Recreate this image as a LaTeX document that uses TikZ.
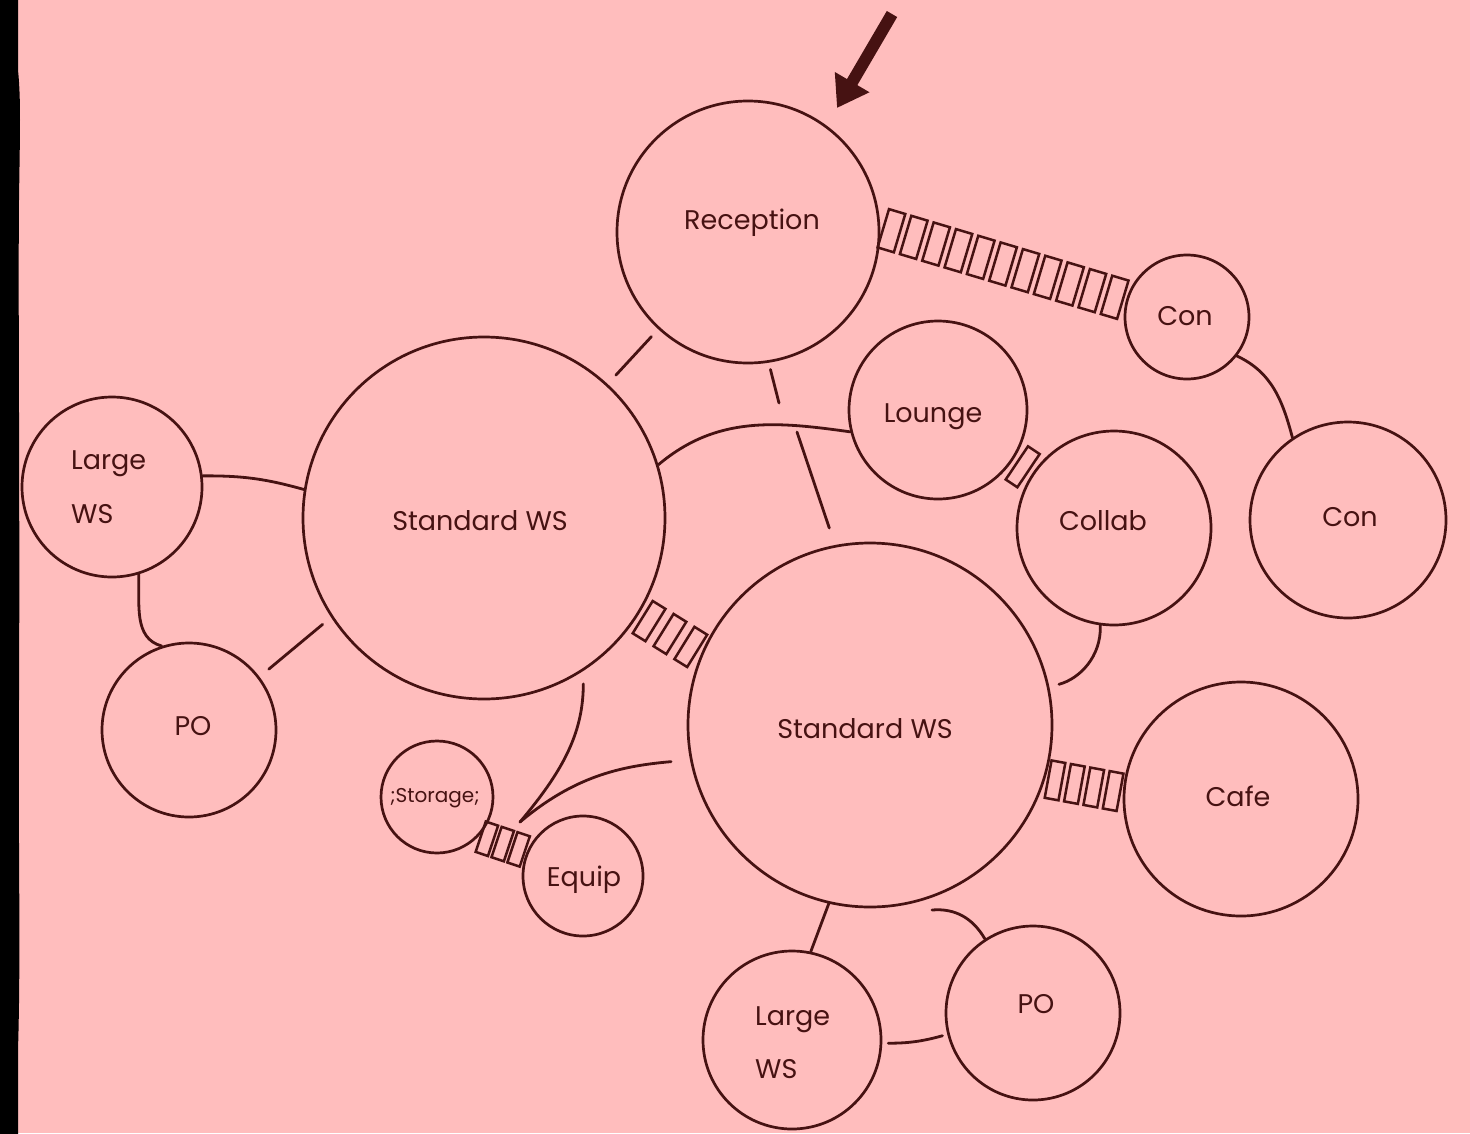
\documentclass[tikz,border=0pt]{standalone}
\usepackage{fontspec}
\setmainfont{Poppins}
\usetikzlibrary{calc,arrows.meta}
\definecolor{bg}{HTML}{FFBDBD}
\definecolor{ink}{HTML}{461212}
\newcommand\ladderrun[6]{%
  \foreach \k [evaluate=\k as \pp using {(\k-0.5)/#3}] in {1,...,#3}{%
    \path (#1) -- (#2) node[rung,sloped,pos=\pp,minimum width=#4,minimum height=#5] (#6\k) {};
  }}
\begin{document}
\begin{tikzpicture}[x=1pt,y=-1pt,
  bub/.style={circle,draw=ink,line width=2.7pt,inner sep=0pt,minimum size=#1},
  lbl/.style={text=ink,font=\fontsize{27}{32}\selectfont,inner sep=0pt,anchor=base},
  lblw/.style={lbl,anchor=base west},
  link/.style={draw=ink,line width=2.8pt,line cap=round},
  rung/.style={draw=ink,line width=2.5pt,rectangle,inner sep=0pt}]
\useasboundingbox (0,0) rectangle (1470,1133);
\fill[bg] (0,0) rectangle (1470,1133);
\fill[black] (-1,-1) -- (18,-1) -- (18,70) .. controls (21,100) and (20,130) .. (19,200)
  .. controls (18,300) and (20,500) .. (19,700) .. controls (18,850) and (21,950) .. (18,1050)
  -- (18,1134) -- (-1,1134) -- cycle;

% bubbles
\node[bub=262pt] (rec) at (748,232) {};
\node[bub=124pt] (con1) at (1187,317) {};
\node[bub=196pt] (con2) at (1348,520) {};
\node[bub=178pt] (lounge) at (938,410) {};
\node[bub=194pt] (collab) at (1114,528) {};
\node[bub=362pt] (swl) at (484,518) {};
\node[bub=364pt] (swr) at (870,725) {};
\node[bub=180pt] (lwsl) at (112,487) {};
\node[bub=174pt] (pol) at (189,730) {};
\node[bub=112pt] (stor) at (437,797) {};
\node[bub=120pt] (equip) at (583,876) {};
\node[bub=234pt] (cafe) at (1241,799) {};
\node[bub=178pt] (lwsb) at (792,1040) {};
\node[bub=174pt] (pob) at (1033,1013) {};

% labels
\node[lbl] (trec) at (752,229) {Reception};
\node[lbl] (tcon1) at (1185,325) {Con};
\node[lbl] (tcon2) at (1350,526) {Con};
\node[lbl] (tlounge) at (933,422) {Lounge};
\node[lbl] (tcollab) at (1103,530) {Collab};
\node[lbl] (tswl) at (480,530) {Standard WS};
\node[lbl] (tswr) at (865,738) {Standard WS};
\node[lblw] (tlwsl1) at (71,469) {Large};
\node[lblw] (tlwsl2) at (71,523) {WS};
\node[lbl] (tpol) at (193,735) {PO};
\node[lbl,font=\fontsize{20}{24}\selectfont] (tstor) at (435,802) {;Storage;};
\node[lbl] (tequip) at (584,886) {Equip};
\node[lbl] (tcafe) at (1238,806) {Cafe};
\node[lblw] (tlwsb1) at (755,1025) {Large};
\node[lblw] (tlwsb2) at (755,1078) {WS};
\node[lbl] (tpob) at (1036,1013) {PO};

% free ends
\coordinate (rs1) at (779,403);
\coordinate (rs2) at (797,432);
\coordinate (j) at (520,822);
\coordinate (pq) at (932,910);
\coordinate (arrS) at (892,14);
\coordinate (arrE) at (837,108);

% connectors
\draw[link,shorten <=10pt,shorten >=12pt] (rec) -- (swl);
\draw[link,shorten <=7pt] (rec.-81) -- (rs1);
\draw[link,shorten >=18pt] (rs2) -- (swr.101);
\draw[link] (swl.17) to[out=40,in=172] (lounge.194);
\draw[link] (lwsl.7) to[bend left=8] (swl.171);
\draw[link] (lwsl.-73) to[out=-88,in=165] (pol.108);
\draw[link,shorten <=12pt,shorten >=11pt] (pol.37) -- (swl.213);
\draw[link,shorten <=13pt] (swl.-57) to[out=-90,in=50] (j);
\draw[link,shorten <=19pt] (swr.191) to[out=185,in=40] (j);
\draw[link,shorten >=10pt] (collab.-98) to[out=-88,in=15] (swr.12);
\draw[link] (con1.-38) to[out=-25,in=105] (con2.124);
\draw[link] (swr.257) -- (lwsb.78);
\draw[link,shorten <=6pt,shorten >=5pt] (lwsb.-2) to[bend right=8] (pob.194);
\draw[link] (pq) to[out=5,in=120] (pob.123);

% ladders
\ladderrun{rec.2}{con1.165}{11}{17pt}{40pt}{rc}
\ladderrun{swl.328}{swr.157}{3}{15pt}{38pt}{ss}
\ladderrun{lounge}{collab}{1}{14pt}{40pt}{lc}
\ladderrun{swr.343}{cafe.177}{4}{14pt}{38pt}{sc}
\ladderrun{stor.317}{equip.157}{3}{13pt}{32pt}{se}

% arrow
\draw[ink,line width=12pt,-{Triangle[length=30pt,width=38pt]}] (arrS) -- (arrE);
\end{tikzpicture}
\end{document}
